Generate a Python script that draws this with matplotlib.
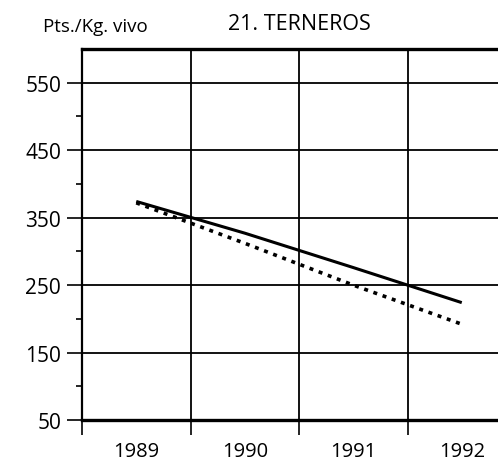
import matplotlib
matplotlib.use("Agg")
import matplotlib.pyplot as plt
from matplotlib.ticker import FixedLocator, NullFormatter

plt.rcParams["font.family"] = ["Open Sans", "DejaVu Sans"]

# Datos
years = ["1989", "1990", "1991", "1992"]
serie_continua = [374, 327, 276, 224]
serie_punteada = [372, 312, 250, 192]
y_major = [50, 150, 250, 350, 450, 550]
y_minor = [100, 200, 300, 400, 500]

fig = plt.figure(figsize=(4.98, 4.64), dpi=100)
ax = fig.add_axes([82 / 498, 1 - 421 / 464, 1 - 82 / 498, (421 - 50) / 464])

x = list(range(len(years)))
ax.plot(x, serie_continua, color="black", lw=2.2, solid_capstyle="butt", zorder=3)
ax.plot(x, serie_punteada, color="black", lw=2.6, linestyle=(0, (1.1, 1.6)), zorder=3)

ax.set_xlim(-0.5, 3.334)
ax.set_ylim(50, 600)

# Eje Y
ax.yaxis.set_major_locator(FixedLocator(y_major))
ax.yaxis.set_minor_locator(FixedLocator(y_minor))
ax.tick_params(axis="y", which="major", length=11, width=1.2, labelsize=15, pad=4)
ax.tick_params(axis="y", which="minor", length=4, width=1.2)

# Eje X: marcas en los límites, etiquetas centradas
ax.xaxis.set_major_locator(FixedLocator([-0.5, 0.5, 1.5, 2.5]))
ax.xaxis.set_major_formatter(NullFormatter())
ax.xaxis.set_minor_locator(FixedLocator(x))
ax.set_xticklabels(years, minor=True)
ax.tick_params(axis="x", which="major", length=11, width=1.2)
ax.tick_params(axis="x", which="minor", length=0, labelsize=14.5, pad=15)

ax.grid(True, which="major", color="black", lw=1.3)
ax.set_axisbelow(True)

ax.spines["right"].set_visible(False)
ax.spines["left"].set_linewidth(1.6)
ax.spines["top"].set_linewidth(2.4)
ax.spines["bottom"].set_linewidth(2.4)

fig.text(43 / 498, 1 - 27 / 464, "Pts./Kg. vivo", fontsize=13.5, va="center", ha="left")
fig.text(299 / 498, 1 - 25 / 464, "21. TERNEROS", fontsize=15.5, va="center", ha="center")

fig.savefig("out.png", dpi=100)
